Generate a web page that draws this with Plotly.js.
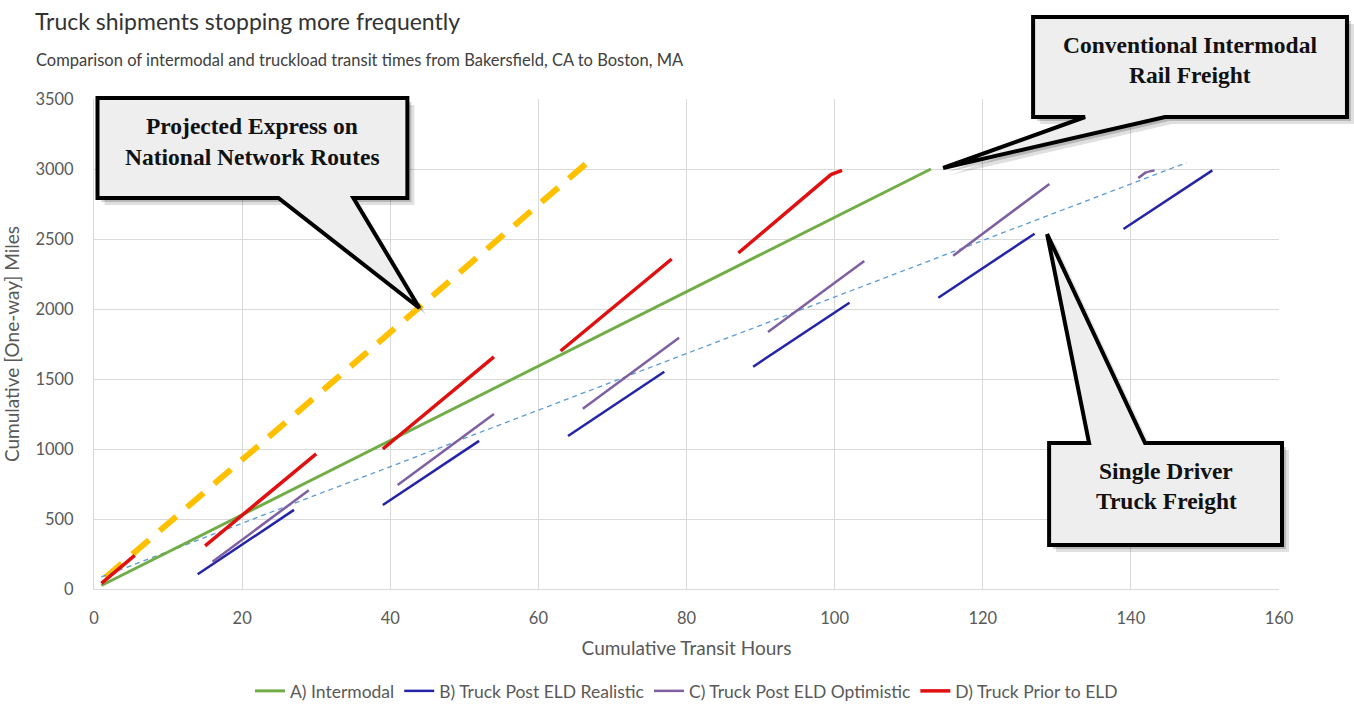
<!DOCTYPE html>
<html>
<head>
<meta charset="utf-8">
<script src="https://cdn.plot.ly/plotly-3.0.1.min.js"></script>
<style>html,body{margin:0;padding:0;background:#fff;}#chart{width:1354px;height:704px;}</style>
</head>
<body>
<div id="chart"></div>
<script>
// ---- Data (hours, cumulative miles); null separates stop intervals ----
const intermodalX = [1, 113];
const intermodalY = [25, 3000];

const realisticX = [14, 27, null, 39, 52, null, 64, 77, null, 89, 102, null, 114, 127, null, 139, 151];
const realisticY = [105, 565, null, 600, 1058, null, 1093, 1552, null, 1588, 2045, null, 2080, 2538, null, 2572, 2990];

const optimisticX = [16, 29, null, 41, 54, null, 66, 79, null, 91, 104, null, 116, 129, null, 141, 142, 143.2];
const optimisticY = [195, 705, null, 743, 1250, null, 1288, 1795, null, 1836, 2343, null, 2380, 2893, null, 2935, 2975, 2990];

const priorX = [1, 5.5, null, 15, 30, null, 39, 54, null, 63, 78, null, 87, 99.5, 101];
const priorY = [40, 240, null, 308, 965, null, 1000, 1658, null, 1700, 2357, null, 2400, 2960, 2990];

const truckTrendX = [1, 147.5];
const truckTrendY = [86, 3045];

const expressX = [1.5, 66.7];
const expressY = [80, 3050];

const seriesNames = ["A) Intermodal", "B) Truck Post ELD Realistic", "C) Truck Post ELD Optimistic", "D) Truck Prior to ELD"];

const xTicks = [0, 20, 40, 60, 80, 100, 120, 140, 160];
const yTicks = [0, 500, 1000, 1500, 2000, 2500, 3000, 3500];

// ---- pixel helpers for callout decorations ----
const L = 93.5, R = 1279, T = 99, B = 589;
const px = v => (v - L) / (R - L);
const py = v => (B - v) / (B - T);
function pathFrom(pts, dx, dy) {
  dx = dx || 0; dy = dy || 0;
  return 'M ' + pts.map(p => px(p[0] + dx).toFixed(5) + ' ' + py(p[1] + dy).toFixed(5)).join(' L ') + ' Z';
}
const callouts = [
  [[97,98],[407,98],[407,198],[353,198],[419,308],[278,198],[97,198]],
  [[1033,17],[1347,17],[1347,117],[1165,117],[943,168],[1085,117],[1033,117]],
  [[1049,443],[1089,443],[1047,234],[1145,443],[1282,443],[1282,545],[1049,545]]
];
const shapes = [];
callouts.forEach(c => {
  shapes.push({type:'path', xref:'paper', yref:'paper', path: pathFrom(c, 7, 7),
    fillcolor:'rgba(0,0,0,0.12)', line:{width:0}, layer:'above'});
  shapes.push({type:'path', xref:'paper', yref:'paper', path: pathFrom(c, 4, 4),
    fillcolor:'rgba(0,0,0,0.18)', line:{width:0}, layer:'above'});
});
callouts.forEach(c => {
  shapes.push({type:'path', xref:'paper', yref:'paper', path: pathFrom(c),
    fillcolor:'#eeeeee', line:{color:'#000', width:4}, layer:'above'});
});

const calloutFont = {family:'"Liberation Serif", "Times New Roman", serif', size:23.5, color:'#111'};
function ann(text, x, y) {
  return {text:'<b>'+text+'</b>', xref:'paper', yref:'paper', x:px(x), y:py(y),
    xanchor:'center', yanchor:'middle', showarrow:false, font:calloutFont};
}

const traces = [
  {x: expressX, y: expressY, mode:'lines', showlegend:false, hoverinfo:'skip',
   line:{color:'#FFC000', width:6, dash:'22px,14px'}},
  {x: truckTrendX, y: truckTrendY, mode:'lines', showlegend:false, hoverinfo:'skip',
   line:{color:'#5B9BD5', width:1.3, dash:'5px,4px'}},
  {x: intermodalX, y: intermodalY, name: seriesNames[0], mode:'lines',
   line:{color:'#70AD47', width:3}},
  {x: realisticX, y: realisticY, name: seriesNames[1], mode:'lines', connectgaps:false,
   line:{color:'#2424A8', width:2.5}},
  {x: optimisticX, y: optimisticY, name: seriesNames[2], mode:'lines', connectgaps:false,
   line:{color:'#7E5FA2', width:2.5, shape:'spline', smoothing:0.3}},
  {x: priorX, y: priorY, name: seriesNames[3], mode:'lines', connectgaps:false,
   line:{color:'#E01010', width:3.5}}
];

const FAM = 'Lato, "Open Sans", sans-serif';
const axisFont = {family:FAM, size:16.5, color:'#595959'};

const layout = {
  width:1354, height:704,
  margin:{l:93.5, r:75, t:99, b:115, autoexpand:false},
  paper_bgcolor:'#fff', plot_bgcolor:'#fff',
  font:{family:FAM, color:'#595959'},
  title:{text:'Truck shipments stopping more frequently', xref:'container', yref:'container',
    x:35/1354, xanchor:'left', y:1-22/704, yanchor:'middle',
    font:{family:FAM, size:23, color:'#333'}},
  xaxis:{range:[0,160], tickvals:xTicks, ticktext:xTicks.map(String), tickfont:axisFont,
    showgrid:true, gridcolor:'#d9d9d9', gridwidth:1, zeroline:false,
    showline:true, linecolor:'#d9d9d9', ticks:'', ticklabelstandoff:14, fixedrange:true, automargin:false,
    title:{text:'Cumulative Transit Hours', font:{family:FAM, size:19, color:'#595959'}, standoff:14}},
  yaxis:{range:[0,3500], tickvals:yTicks, ticktext:yTicks.map(String), tickfont:axisFont,
    showgrid:true, gridcolor:'#d9d9d9', gridwidth:1, zeroline:false,
    showline:true, linecolor:'#d9d9d9', ticks:'', ticklabelstandoff:16, fixedrange:true, automargin:false,
    title:{text:'Cumulative [One-way] Miles', font:{family:FAM, size:19, color:'#595959'}, standoff:12}},
  legend:{orientation:'h', x:0.5, xanchor:'center', y:py(691), yanchor:'middle',
    font:{family:FAM, size:17.5, color:'#595959'},
    itemwidth:30, traceorder:'normal'},
  shapes: shapes,
  annotations:[
    {text:'Comparison of intermodal and truckload transit times from Bakersfield, CA to Boston, MA',
     xref:'paper', yref:'paper', x:px(33), y:py(60), xanchor:'left', yanchor:'middle', showarrow:false,
     font:{family:FAM, size:16.5, color:'#404040'}},
    ann('Projected Express on', 252, 126),
    ann('National Network Routes', 252, 157),
    ann('Conventional Intermodal', 1190, 45),
    ann('Rail Freight', 1190, 75),
    ann('Single Driver', 1166, 471),
    ann('Truck Freight', 1166, 501)
  ]
};

Plotly.newPlot('chart', traces, layout, {displayModeBar:false, staticPlot:true});
</script>
</body>
</html>
